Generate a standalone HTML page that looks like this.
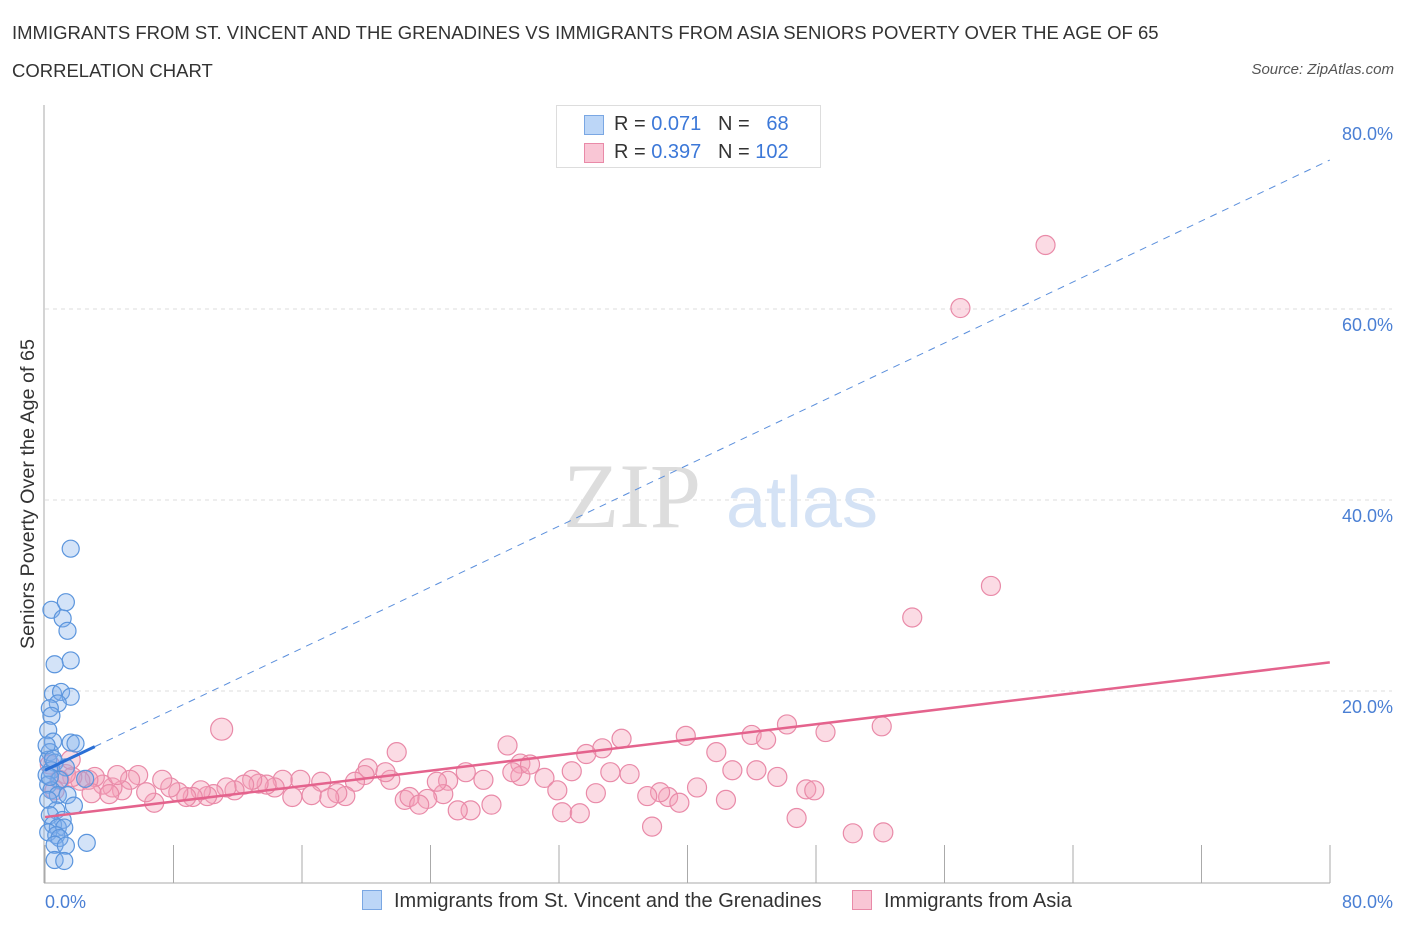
<!DOCTYPE html>
<html><head><meta charset="utf-8"><style>
body{margin:0;background:#fff;font-family:"Liberation Sans",sans-serif;}
#wrap{position:relative;width:1406px;height:930px;overflow:hidden;}
.t{position:absolute;white-space:nowrap;}
</style></head><body>
<div id="wrap">
<div class="t" style="left:12px;top:22px;font-size:18.5px;color:#333;">IMMIGRANTS FROM ST. VINCENT AND THE GRENADINES VS IMMIGRANTS FROM ASIA SENIORS POVERTY OVER THE AGE OF 65</div>
<div class="t" style="left:12px;top:60px;font-size:18.5px;color:#333;">CORRELATION CHART</div>
<div class="t" style="right:12px;top:61px;font-size:15px;color:#555;font-style:italic;">Source: ZipAtlas.com</div>
<svg id="svg" width="1406" height="930" style="position:absolute;left:0;top:0"></svg>
</div>
<script>
const blueX=[1.6,0.4,1.3,1.1,1.4,1.6,0.6,0.5,1.0,1.6,0.8,0.3,0.4,0.2,0.5,1.6,1.9,0.3,0.2,0.6,0.4,0.1,1.3,0.9,2.5,0.2,0.4,0.8,0.2,1.4,1.8,0.7,0.3,1.1,0.5,0.8,1.2,0.2,0.7,0.9,2.6,0.6,1.3,0.6,1.2,0.1,0.3,0.5];
const blueY=[34.9,28.5,29.3,27.6,26.3,23.2,22.8,19.7,19.9,19.4,18.7,18.2,17.4,15.9,14.7,14.6,14.5,13.6,12.8,12.5,11.7,11.2,12.0,10.7,10.8,10.2,9.6,9.1,8.6,9.1,8.0,7.5,7.0,6.5,6.0,5.7,5.7,5.2,4.9,4.6,4.1,3.9,3.8,2.3,2.2,14.3,11.0,12.9];
const pinkX=[62.3,57.0,58.9,54.0,11.0,52.1,48.6,46.2,44.0,44.9,39.9,35.9,34.7,33.7,28.8,29.6,21.9,20.1,41.8,42.8,44.3,47.4,47.9,45.6,40.6,38.8,38.3,37.5,39.5,36.4,35.2,32.8,31.1,31.9,29.6,30.2,29.1,27.3,26.2,25.1,24.8,24.4,23.8,22.4,22.7,23.3,21.5,21.2,19.9,19.3,18.7,18.2,17.7,17.2,16.6,15.9,15.4,14.8,14.3,13.8,13.3,12.9,12.4,11.8,11.3,10.5,10.1,9.7,9.2,8.8,8.3,7.8,7.3,6.8,6.3,5.8,5.3,4.8,4.2,3.6,3.1,2.7,2.2,1.7,1.3,0.9,26.5,25.7,27.8,32.2,33.3,34.3,37.8,42.4,46.8,50.3,52.2,2.9,4.0,4.5,0.3,0.6,1.6];
const pinkY=[66.7,60.1,31.0,27.7,16.0,16.3,15.7,16.5,15.4,14.9,15.3,15.0,14.0,13.4,14.3,12.4,13.6,11.9,13.6,11.7,11.7,9.7,9.6,11.0,9.9,8.9,9.4,9.0,8.3,11.3,11.5,11.6,10.9,9.6,11.1,12.3,11.5,10.7,11.5,10.6,9.2,10.5,8.7,8.6,8.9,8.1,10.7,11.5,11.2,10.5,9.0,9.3,8.8,10.5,9.1,10.7,8.9,10.7,9.9,10.2,10.3,10.7,10.2,9.6,9.9,9.2,9.0,9.6,8.9,8.9,9.4,9.9,10.7,8.3,9.4,11.2,10.7,9.6,9.9,10.2,11.0,10.7,10.6,11.0,11.3,10.7,7.5,7.5,8.1,7.3,7.2,9.3,5.8,8.6,6.7,5.1,5.2,9.3,9.2,11.2,12.3,9.6,12.8];
const yTicks=[20,40,60,80];
const blueTrend=[11.7,75.6];
const pinkTrend=[6.8,23.0];
const NS='http://www.w3.org/2000/svg';
const svg=document.getElementById('svg');
const X=v=>45+v*16.06, Y=v=>882-v*9.55;
function mk(t,a,p){const e=document.createElementNS(NS,t);for(const k in a)e.setAttribute(k,a[k]);(p||svg).appendChild(e);return e;}
yTicks.forEach(t=>{
 if(t<80){
 const g=mk('line',{x1:45,x2:1392,y1:Y(t),y2:Y(t),stroke:'#ddd','stroke-dasharray':'4,4'});
 
 
 }
 const l=mk('text',{x:1393,y:Y(t)+22,'text-anchor':'end','font-size':18,fill:'#4a7fd4','font-family':'Liberation Sans'});
 l.textContent=t.toFixed(1)+'%';
 
 
});
mk('line',{x1:44,x2:44,y1:105,y2:883,stroke:'#aaa'});
mk('line',{x1:44,x2:1330,y1:883,y2:883,stroke:'#aaa'});
for(let i=0;i<=10;i++){const x=45+i*128.5;mk('line',{x1:x,x2:x,y1:845,y2:883,stroke:'#aaa'});}
let xl=mk('text',{x:45,y:908,'font-size':18,fill:'#4a7fd4','font-family':'Liberation Sans'});xl.textContent='0.0%';


let xr=mk('text',{x:1393,y:908,'text-anchor':'end','font-size':18,fill:'#4a7fd4','font-family':'Liberation Sans'});xr.textContent='80.0%';


let yt=mk('text',{x:0,y:0,transform:'translate(34,494) rotate(-90)','text-anchor':'middle','font-size':19.8,fill:'#333','font-family':'Liberation Sans'});yt.textContent='Seniors Poverty Over the Age of 65';


let w1=mk('text',{x:632,y:527,'text-anchor':'middle','font-size':92,fill:'#ddd','font-family':'Liberation Serif'});w1.textContent='ZIP';


let w2=mk('text',{x:802,y:527,'text-anchor':'middle','font-size':72,fill:'#d4e2f5','font-family':'Liberation Sans'});w2.textContent='atlas';


pinkX.forEach((v,i)=>{const c=mk('circle',{cx:X(v),cy:Y(pinkY[i]),r:(i==4?11:9.5),fill:'rgba(244,160,185,0.38)',stroke:'#e98aa8','stroke-width':1.2});
 
 });
blueX.forEach((v,i)=>{const c=mk('circle',{cx:X(v),cy:Y(blueY[i]),r:8.5,fill:'rgba(130,175,235,0.35)',stroke:'#5b95dd','stroke-width':1.2});
 
 });
const bt=v=>blueTrend[0]+(blueTrend[1]-blueTrend[0])*v/80;
let bd=mk('line',{x1:X(3.1),y1:Y(bt(3.1)),x2:X(80),y2:Y(bt(80)),stroke:'#5b8fdc','stroke-width':1,'stroke-dasharray':'7,6'});


let bs=mk('line',{x1:X(0),y1:Y(bt(0)),x2:X(3.1),y2:Y(bt(3.1)),stroke:'#2a6fd6','stroke-width':3});


let pt=mk('line',{x1:X(0),y1:Y(pinkTrend[0]),x2:X(80),y2:Y(pinkTrend[1]),stroke:'#e4638d','stroke-width':2.5});


</script>
<div class="t" style="left:556px;top:105px;width:263px;height:61px;border:1px solid #ddd;background:#fff;font-size:20px;color:#333;">
 <div style="position:absolute;left:27px;top:9px;width:18px;height:18px;background:#bcd6f7;border:1px solid #7aa7e3;"></div>
 <div style="position:absolute;left:57px;top:7px;">R = <span style="color:#3c78d8">0.071</span>&nbsp;&nbsp;&nbsp;N = &nbsp;&nbsp;<span style="color:#3c78d8">68</span></div>
 <div style="position:absolute;left:27px;top:37px;width:18px;height:18px;background:#f9c6d5;border:1px solid #e98aa8;"></div>
 <div style="position:absolute;left:57px;top:35px;">R = <span style="color:#3c78d8">0.397</span>&nbsp;&nbsp;&nbsp;N = <span style="color:#3c78d8">102</span></div>
</div>
<div class="t" style="left:362px;top:890px;font-size:20px;color:#333;">
 <span style="display:inline-block;width:18px;height:18px;background:#bcd6f7;border:1px solid #7aa7e3;vertical-align:-3px;margin-right:12px;"></span>Immigrants from St. Vincent and the Grenadines</div>
<div class="t" style="left:852px;top:890px;font-size:20px;color:#333;">
 <span style="display:inline-block;width:18px;height:18px;background:#f9c6d5;border:1px solid #e98aa8;vertical-align:-3px;margin-right:12px;"></span>Immigrants from Asia</div>
</body></html>
